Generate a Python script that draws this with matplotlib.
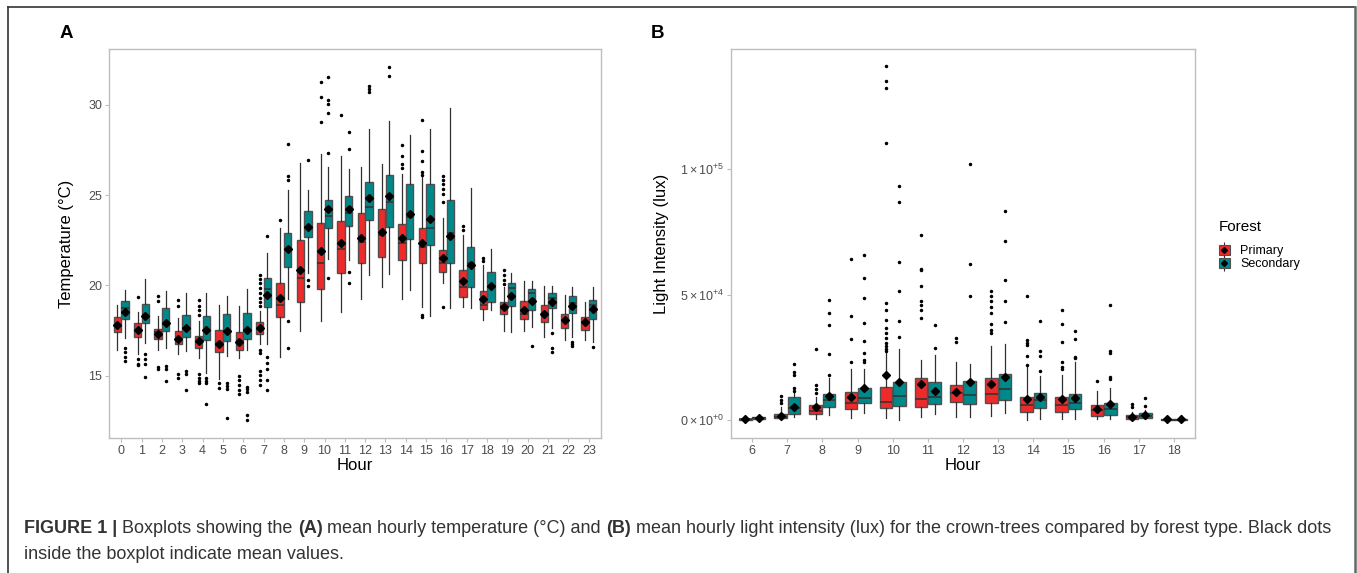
import matplotlib
matplotlib.use('Agg')
import matplotlib.pyplot as plt
from matplotlib.patches import Patch
from matplotlib.lines import Line2D

plt.rcParams['font.family'] = ['Liberation Sans', 'DejaVu Sans']
plt.rcParams['mathtext.fontset'] = 'custom'
plt.rcParams['mathtext.rm'] = 'Liberation Sans'
plt.rcParams['mathtext.it'] = 'Liberation Sans:italic'
plt.rcParams['mathtext.bf'] = 'Liberation Sans:bold'

RED = '#EE2A2B'
TEAL = '#00898A'

# ---------------- data ----------------
# each tuple: (whisker low, Q1, median, Q3, whisker high, mean)
temp_hours = list(range(24))
temp_primary = [
    (16.40, 17.43, 17.80, 18.25, 18.93, 17.83),
    (16.18, 17.15, 17.55, 17.92, 18.51, 17.55),
    (16.40, 17.04, 17.40, 17.59, 18.33, 17.33),
    (16.18, 16.73, 17.00, 17.46, 18.20, 17.04),
    (15.99, 16.54, 16.86, 17.19, 18.01, 16.91),
    (14.80, 16.32, 16.82, 17.52, 18.93, 16.78),
    (15.99, 16.45, 16.91, 17.44, 18.88, 16.88),
    (16.73, 17.33, 17.65, 17.96, 18.57, 17.65),
    (16.05, 18.25, 18.90, 20.13, 23.16, 19.30),
    (17.46, 19.06, 20.40, 22.52, 26.78, 20.86),
    (18.01, 19.80, 21.23, 23.47, 27.30, 21.91),
    (18.53, 20.68, 22.00, 23.55, 27.15, 22.33),
    (19.26, 21.27, 22.43, 24.03, 26.56, 22.61),
    (19.94, 21.60, 22.79, 24.25, 26.75, 22.98),
    (19.25, 21.42, 22.37, 23.38, 26.16, 22.65),
    (18.80, 21.27, 22.15, 23.20, 26.05, 22.33),
    (20.13, 20.72, 21.27, 21.97, 23.71, 21.51),
    (18.80, 19.36, 19.94, 20.86, 22.79, 20.26),
    (18.11, 18.69, 18.90, 19.67, 21.14, 19.25),
    (17.50, 18.42, 18.84, 19.08, 19.94, 18.80),
    (17.46, 18.14, 18.42, 19.15, 20.26, 18.62),
    (17.13, 17.96, 18.47, 18.90, 19.98, 18.42),
    (16.97, 17.65, 18.11, 18.44, 19.45, 18.11),
    (16.97, 17.56, 17.96, 18.25, 19.08, 17.96),
]
temp_primary_out = [
    [], [19.36, 15.90, 15.66, 15.57], [19.43, 19.15, 15.48, 15.35],
    [19.21, 18.88, 15.07, 14.89],
    [19.21, 18.88, 18.66, 18.38, 15.07, 14.89, 14.70, 14.58],
    [14.58, 14.34], [14.98, 14.74, 14.47, 14.21, 13.97],
    [20.59, 20.35, 20.13, 19.85, 19.58, 19.30, 19.06, 18.88,
     16.45, 16.27, 15.26, 15.02, 14.76, 14.49],
    [23.62], [], [29.04, 30.42, 31.29], [29.45], [], [],
    [27.76, 27.15, 26.71, 26.53],
    [29.17, 27.43, 26.88, 26.29, 26.14, 18.36, 18.24],
    [26.07, 25.86, 25.64, 25.37, 25.09, 24.63, 18.80],
    [23.31, 23.07], [21.54, 21.38], [20.83, 20.59, 20.31, 20.09],
    [], [], [], [],
]
temp_secondary = [
    (17.10, 18.14, 18.73, 19.12, 19.76, 18.51),
    (16.82, 17.92, 18.38, 18.97, 20.35, 18.29),
    (16.54, 17.46, 17.89, 18.75, 19.67, 17.92),
    (16.36, 17.15, 17.65, 18.38, 19.58, 17.65),
    (15.17, 16.97, 17.55, 18.33, 19.61, 17.52),
    (16.08, 16.95, 17.46, 18.42, 19.43, 17.46),
    (16.42, 17.04, 17.55, 18.47, 19.80, 17.52),
    (16.73, 18.80, 19.80, 20.40, 21.78, 19.49),
    (19.25, 21.01, 22.00, 22.92, 25.31, 22.00),
    (20.70, 22.67, 23.25, 24.14, 25.31, 23.25),
    (21.45, 23.16, 23.86, 24.71, 26.56, 24.23),
    (21.42, 23.31, 24.04, 24.98, 26.47, 24.23),
    (20.59, 23.62, 24.36, 25.72, 28.68, 24.82),
    (20.63, 23.25, 24.60, 26.14, 29.10, 24.94),
    (19.76, 22.56, 23.80, 25.61, 28.36, 23.95),
    (18.29, 22.22, 23.20, 25.64, 28.68, 23.69),
    (18.75, 21.27, 22.89, 24.76, 29.83, 22.76),
    (18.75, 19.91, 21.27, 22.15, 25.42, 21.14),
    (18.66, 19.08, 19.90, 20.74, 22.00, 19.98),
    (17.43, 18.84, 19.85, 20.13, 20.68, 19.43),
    (17.70, 18.62, 19.58, 19.80, 20.26, 19.15),
    (17.65, 18.75, 19.30, 19.61, 19.98, 19.06),
    (17.15, 18.47, 19.03, 19.43, 19.94, 18.84),
    (16.86, 18.16, 18.93, 19.17, 19.89, 18.69),
]
temp_secondary_out = [
    [16.54, 16.30, 16.05, 15.81], [16.23, 15.94, 15.63, 14.94],
    [15.53, 15.35, 14.70], [15.26, 15.07, 14.21],
    [14.89, 14.70, 14.58, 13.42], [14.61, 14.43, 14.25, 12.68],
    [14.39, 14.25, 14.10, 12.81, 12.56],
    [22.74, 16.05, 15.68, 15.35, 14.76, 14.21],
    [27.81, 26.07, 25.86, 18.01, 16.54], [26.93, 20.31, 19.98],
    [27.35, 29.54, 30.06, 30.29, 31.56, 20.40],
    [27.57, 28.49, 20.74, 20.13], [31.07, 30.88, 30.72], [32.08, 31.62],
    [], [], [], [], [], [], [16.67], [17.37, 16.54, 16.30],
    [16.87, 16.76, 16.64], [16.60],
]

light_hours = list(range(6, 19))
light_primary = [
    (0, 100, 200, 400, 800, 300),
    (0, 700, 1300, 2400, 5300, 1600),
    (300, 2400, 3700, 6000, 9300, 5100),
    (900, 4300, 6700, 11100, 20200, 9300),
    (900, 4700, 7300, 13300, 26600, 18000),
    (1300, 5300, 8300, 16600, 24000, 14400),
    (1300, 7100, 10900, 14000, 23300, 11300),
    (1700, 6700, 10300, 16600, 29600, 14400),
    (0, 3300, 6000, 9300, 21300, 8300),
    (300, 3300, 6000, 9300, 18000, 8300),
    (300, 1700, 4000, 6000, 11600, 4300),
    (0, 300, 1300, 2000, 3300, 1300),
    (0, 0, 100, 300, 700, 200),
]
light_primary_out = [
    [], [6700, 8000, 9600], [10700, 12200, 14000, 28200],
    [23300, 32200, 41300, 64400],
    [27500, 28500, 29500, 30900, 32600, 34600, 36500, 39900, 43900, 46600,
     110500, 132500, 135400, 141100],
    [40600, 43900, 45900, 47300, 53300, 59700, 60200, 73600],
    [31300, 32600],
    [34600, 36000, 38300, 42600, 45000, 47300, 49500, 51300],
    [22000, 25600, 30000, 30900, 31700, 49500],
    [20200, 21000, 23300, 31000, 38300, 43700],
    [15600], [5300, 6300], [],
]
light_secondary = [
    (200, 500, 800, 1200, 1800, 900),
    (1100, 2400, 4700, 9300, 11000, 5300),
    (2000, 5100, 8000, 10300, 16600, 9600),
    (2900, 6700, 8900, 12600, 20400, 12900),
    (0, 5700, 9600, 15300, 28200, 15300),
    (2300, 6300, 9300, 15300, 26000, 11600),
    (1300, 6400, 10000, 15600, 22200, 15300),
    (2700, 7900, 12200, 18200, 30400, 17300),
    (300, 4900, 8000, 10900, 17600, 9100),
    (300, 4300, 6900, 10400, 23200, 8900),
    (400, 2000, 4300, 6900, 12600, 6300),
    (300, 900, 1700, 2700, 4000, 2000),
    (0, 0, 150, 300, 2000, 400),
]
light_secondary_out = [
    [], [11700, 12600, 18000, 19300, 22400],
    [18000, 26200, 37800, 42600, 47700],
    [23300, 24000, 26600, 31600, 38600, 48600, 56500, 65900],
    [32900, 39500, 51300, 63200, 87000, 93500],
    [28900, 37900], [49500, 62200, 102100],
    [38900, 47500, 55900, 71200, 83500],
    [19700, 25700, 27700, 39300], [24600, 25300, 32400, 35600],
    [16200, 17300, 26900, 27700, 45900], [5700, 8700], [],
]

light_yticks = [0, 50000, 100000]
light_yticklabels = [r'$0\times10^{+0}$', r'$5\times10^{+4}$', r'$1\times10^{+5}$']

# ---------------- figure ----------------
W, H = 1357, 573
fig = plt.figure(figsize=(W / 100, H / 100), dpi=100)

def fx(px):
    return px / W

def fy(py):
    return 1 - py / H

axA = fig.add_axes([fx(109), fy(438), fx(601 - 109), (438 - 49) / H])
axB = fig.add_axes([fx(731), fy(438), fx(1195 - 731), (438 - 49) / H])

OFF = 0.19
BW = 0.36


def draw_series(ax, stats_list, outs, color, offset):
    stats = []
    for (lo, q1, med, q3, hi, mean), fl in zip(stats_list, outs):
        stats.append(dict(whislo=lo, q1=q1, med=med, q3=q3, whishi=hi,
                          mean=mean, fliers=fl))
    pos = [i + offset for i in range(len(stats_list))]
    ax.bxp(stats, positions=pos, widths=BW, patch_artist=True,
           showmeans=True, showcaps=False, manage_ticks=False,
           boxprops=dict(facecolor=color, edgecolor='#505050', linewidth=1.0),
           medianprops=dict(color='#303030', linewidth=1.1),
           whiskerprops=dict(color='#303030', linewidth=0.9),
           meanprops=dict(marker='D', markerfacecolor='black',
                          markeredgecolor='black', markersize=3.6),
           flierprops=dict(marker='o', markerfacecolor='black',
                           markeredgecolor='black', markersize=1.5,
                           linestyle='none'))


def style_axes(ax, labels):
    for s in ax.spines.values():
        s.set_color('#BEBEBE')
        s.set_linewidth(1.0)
    ax.tick_params(axis='both', colors='#BEBEBE', labelcolor='#4D4D4D',
                   labelsize=9, length=3, width=0.8, pad=2)
    ax.set_xticks(range(len(labels)))
    ax.set_xticklabels([str(h) for h in labels])
    ax.set_xlim(-0.6, len(labels) - 0.4)
    ax.set_xlabel('Hour', fontsize=12, color='black', labelpad=1)


draw_series(axA, temp_primary, temp_primary_out, RED, -OFF)
draw_series(axA, temp_secondary, temp_secondary_out, TEAL, OFF)
style_axes(axA, temp_hours)
axA.set_ylim(11.55, 33.1)
axA.set_yticks([15, 20, 25, 30])
axA.set_ylabel('Temperature (°C)', fontsize=12, color='black', labelpad=10)

draw_series(axB, light_primary, light_primary_out, RED, -OFF)
draw_series(axB, light_secondary, light_secondary_out, TEAL, OFF)
style_axes(axB, light_hours)
axB.set_ylim(-7200, 148000)
axB.set_yticks(light_yticks)
axB.set_yticklabels(light_yticklabels)
axB.set_ylabel('Light Intensity (lux)', fontsize=12, color='black', labelpad=8)

# panel letters
fig.text(fx(66), fy(33), 'A', fontsize=13.5, fontweight='bold',
         ha='center', va='center')
fig.text(fx(658), fy(34), 'B', fontsize=13.5, fontweight='bold',
         ha='center', va='center')

# legend
def key(color):
    return (Line2D([], [], color='#303030', marker='|', markersize=11,
                   linestyle='none', markeredgewidth=0.8),
            Patch(facecolor=color, edgecolor='#505050', linewidth=0.8),
            Line2D([], [], marker='D', color='black', markersize=3,
                   linestyle='none'))

fig.text(fx(1219), fy(227), 'Forest', fontsize=11, ha='left', va='center')
leg = fig.legend([key(RED), key(TEAL)], ['Primary', 'Secondary'],
                 loc='upper left', bbox_to_anchor=(fx(1219), fy(245)),
                 frameon=False, fontsize=9, handlelength=0.85,
                 handleheight=0.85, handletextpad=0.85, labelspacing=0.05,
                 borderpad=0, borderaxespad=0)

# outer frame
fig.add_artist(Line2D([fx(7.5), fx(7.5)], [fy(573), fy(6.5)], color='#333333',
                      linewidth=1.2, transform=fig.transFigure))
fig.add_artist(Line2D([fx(7.5), fx(1355)], [fy(6.5), fy(6.5)], color='#333333',
                      linewidth=1.2, transform=fig.transFigure))
fig.add_artist(Line2D([fx(1355), fx(1355)], [fy(6.5), fy(573)], color='#666666',
                      linewidth=1.8, transform=fig.transFigure))

# caption with mixed bold pieces
CAP_FS = 13
CAP_FAMILY = ['Liberation Sans', 'DejaVu Sans']
CAP_COLOR = '#333333'
renderer = fig.canvas.get_renderer()
space_px = 0.278 * CAP_FS * 100 / 72

line1 = [("FIGURE 1 |", 'bold'), ("Boxplots showing the", 'normal'),
         ("(A)", 'bold'),
         ("mean hourly temperature (°C) and", 'normal'), ("(B)", 'bold'),
         ("mean hourly light intensity (lux) for the crown-trees compared by forest type. Black dots", 'normal')]
line2 = [("inside the boxplot indicate mean values.", 'normal')]

for pieces, base_y in ((line1, 533), (line2, 559)):
    x = 24.0
    for txt, wt in pieces:
        t = fig.text(fx(x), fy(base_y), txt, fontsize=CAP_FS, fontweight=wt,
                     family=CAP_FAMILY, color=CAP_COLOR, ha='left',
                     va='baseline')
        bb = t.get_window_extent(renderer)
        x = bb.x1 + space_px

fig.savefig('out.png', dpi=100)
